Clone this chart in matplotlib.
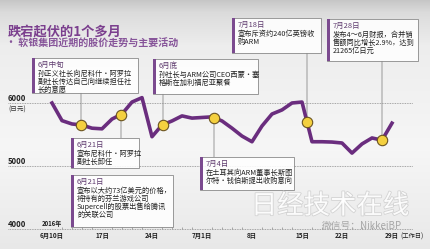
import matplotlib.pyplot as plt
import matplotlib.transforms as mtransforms
import matplotlib.patheffects as pe
from matplotlib.patches import Rectangle, ConnectionPatch
import numpy as np

plt.rcParams['font.family'] = ['Noto Sans CJK SC', 'DejaVu Sans']

# 工作日序号, 0 = 2016年6月10日 (7月18日为日本假日)
days = np.arange(35)
price = [6000, 5720, 5667, 5650, 5600, 5590, 5745, 5825, 6015, 6085,
         5465, 5650, 5715, 5795, 5760, 5770, 5780, 5715, 5600, 5475,
         5385, 5635, 5825, 5890, 6000, 6015, 5385, 5385, 5380, 5365,
         5205, 5350, 5445, 5410, 5680]
tick_days = [0, 5, 10, 15, 20, 25, 29, 34]
tick_labels = ['6月10日', '17日', '24日', '7月1日', '8日', '15日', '22日', '29日']
y_ticks = [4000, 5000, 6000]

# 事件所在的工作日位置
event_days = [2.9, 6.9, 11.1, 16.2, 25.5, 33.0]

note_dates = ['6月中旬', '6月21日', '6月21日', '6月底', '7月4日', '7月18日', '7月28日']
note_lines = [
    ['孙正义社长向尼科什·阿罗拉', '副社长传达自己向继续担任社', '长的意愿'],
    ['宣布尼科什·阿罗拉', '副社长卸任'],
    ['宣布以大约73亿美元的价格，', '将持有的芬兰游戏公司', 'Supercell的股票出售给腾讯', '的关联公司'],
    ['孙社长与ARM公司CEO西蒙·塞', '格斯在加利福尼亚聚餐'],
    ['在土耳其向ARM董事长斯图', '尔特·钱伯斯提出收购意向'],
    ['宣布斥资约240亿英镑收', '购ARM'],
    ['发布4～6月财报，合并销', '售额同比增长2.9%，达到', '21265亿日元'],
]

PURPLE = '#6a2d7e'
TITLE = '#7b3f8e'

fig = plt.figure(figsize=(4.3, 2.49), dpi=100)

# background
bg = fig.add_axes([0, 0, 1, 1], zorder=0)
shade = np.interp(np.arange(249), [0, 12, 45, 150, 249], [0.78, 0.86, 0.93, 0.965, 0.91])
bg.imshow(np.tile(shade[:, None, None], (1, 430, 3)), aspect='auto')
bg.axis('off')

# chart
ax = fig.add_axes([8 / 430, 20 / 249, 405 / 430, 219 / 249], zorder=2)
ax.patch.set_alpha(0)
ax.set_xlim(-4.4, 36.1)
ax.set_ylim(4000, 7476)
for s in ax.spines.values():
    s.set_visible(False)

for v in y_ticks:
    ax.axhline(v, color='#8c8c8c', lw=0.6, ls=(0, (1, 1)), clip_on=False, zorder=1)

ax.plot(days, price, color=PURPLE, lw=2.6, solid_joinstyle='round', zorder=3)
ev_y = np.interp(event_days, days, price)
ax.plot(event_days, ev_y, 'o', ms=7.5, mfc='#f4d03f', mec='#6b5420', mew=0.8, zorder=5)

ax.set_xticks(tick_days, tick_labels)
ax.set_xticks(days, minor=True)
ax.tick_params(axis='x', which='major', length=0, pad=2.5, labelsize=4.6, labelcolor='#222')
ax.tick_params(axis='x', which='minor', length=1.5, width=0.5, color='#888', direction='in')
for lbl in ax.get_xticklabels():
    lbl.set_fontweight('bold')
ax.set_yticks([])

ytrans = mtransforms.blended_transform_factory(ax.transAxes, ax.transData)
for v in y_ticks:
    ax.text(0, v, str(v), transform=ytrans, ha='left', va='bottom',
            fontsize=5.5, fontweight='bold', color='#222')
ax.annotate('(日元)', xy=(0, 6000), xycoords=ytrans, xytext=(0, -2),
            textcoords='offset points', va='top', fontsize=4.8, color='#333')
ax.annotate('2016年', xy=(0, 4000), xytext=(0, 1.5), textcoords='offset points',
            ha='center', va='bottom', fontsize=4.3, fontweight='bold', color='#222')
ax.annotate('(工作日)', xy=(34, 4000), xytext=(6.2, -2.5), textcoords='offset points',
            ha='left', va='top', fontsize=4.5, color='#222')

# overlay in pixel coordinates for title and note boxes
ov = fig.add_axes([0, 0, 1, 1], zorder=3)
ov.set_xlim(0, 430)
ov.set_ylim(249, 0)
ov.axis('off')
ov.patch.set_alpha(0)

ov.text(8, 31, '跌宕起伏的1个多月', fontsize=9.5, fontweight='bold', color=TITLE, va='center')
ov.text(6, 44, '• 软银集团近期的股价走势与主要活动', fontsize=7.2, fontweight='bold',
        color='#87559a', va='center')

boxes = [
    (32, 58, 138, 93),
    (71, 138, 139, 168),
    (71, 175, 173, 227),
    (153, 59, 258, 94),
    (200, 157, 294, 190),
    (232, 18, 321, 53),
    (327, 19, 418, 61),
]
for (l, t, r, b), head, lines in zip(boxes, note_dates, note_lines):
    ov.add_patch(Rectangle((l, t), r - l, b - t, facecolor='white', alpha=0.88,
                           edgecolor='none'))
    ov.add_patch(Rectangle((l, t), r - l, b - t, facecolor='none',
                           edgecolor='#8a8a8a', lw=0.6))
    ov.add_patch(Rectangle((l, t), 3, b - t, facecolor='#7b4a8f', edgecolor='none'))
    ov.text(l + 6, t + 7, head, fontsize=5.4, color='#5e3a6e', va='center')
    for k, line in enumerate(lines):
        ov.text(l + 6, t + 16 + 8 * k, line, fontsize=5.2, color='#222', va='center')

# connectors from markers to boxes
box_of_event = [0, 1, 3, 4, 5, 6]
stick = mtransforms.blended_transform_factory(ax.transData, ov.transData)
for d, y, bi in zip(event_days, ev_y, box_of_event):
    l, t, r, b = boxes[bi]
    edge = t if t > 110 else b
    cp = ConnectionPatch((d, y), (d, edge), coordsA=ax.transData, coordsB=stick,
                         color='#8a8a8a', lw=0.6, zorder=2, clip_on=False)
    ax.add_artist(cp)

# watermark
ov.text(330, 206, '日经技术在线', fontsize=19, color='white', alpha=0.9, ha='center',
        va='center', path_effects=[pe.withStroke(linewidth=1.2, foreground='#d0d0d0')])
ov.text(362, 226, '微信号：NikkeiBP', fontsize=7, color='#a8a8a8', ha='center', va='center')

fig.savefig('out.png', dpi=100)
